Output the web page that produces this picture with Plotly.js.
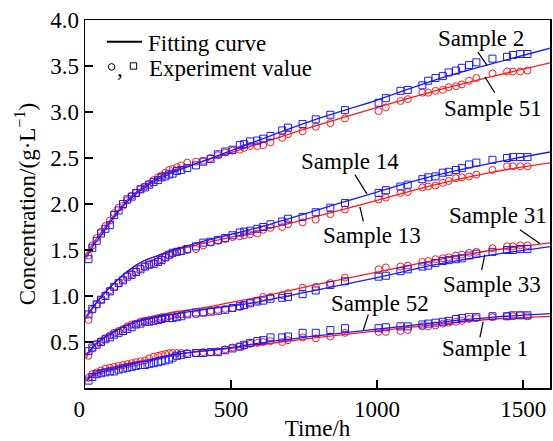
<!DOCTYPE html>
<html>
<head>
<meta charset="utf-8">
<script src="https://cdn.plot.ly/plotly-3.0.1.min.js"></script>
<style>
  html, body { margin: 0; padding: 0; background: #fff; }
  #chart { width: 553px; height: 441px; }
</style>
</head>
<body>
<div id="chart"></div>
<script>
// Sampling times of the experiment (h)
const timeH = [12, 25, 40, 55, 70, 85, 100, 115, 130, 145, 160, 175, 190, 205, 220, 235, 250, 262, 275, 288, 300, 315, 330, 350,
  380, 405, 430, 455, 480, 505, 530, 545, 565, 590, 610, 635, 675, 695, 745, 790, 840, 890,
  1005, 1030, 1080, 1105, 1155, 1175, 1200, 1225, 1245, 1270, 1290, 1315, 1340, 1395, 1445, 1465, 1490, 1515];

// Measured concentrations (g/L)
const sample2 = [1.40, 1.52, 1.60, 1.68, 1.73, 1.77, 1.88, 1.93, 2.00, 2.05, 2.08, 2.12, 2.16, 2.18, 2.21, 2.24, 2.26, 2.29, 2.30, 2.32, 2.33, 2.36, 2.37, 2.39,
  2.42, 2.46, 2.49, 2.54, 2.57, 2.59, 2.64, 2.65, 2.68, 2.69, 2.71, 2.74, 2.80, 2.83, 2.87, 2.92, 2.97, 3.02,
  3.10, 3.15, 3.23, 3.24, 3.29, 3.34, 3.37, 3.39, 3.43, 3.45, 3.48, 3.51, 3.54, 3.58, 3.60, 3.62, 3.63, 3.63];
const sample51 = [1.44, 1.55, 1.63, 1.70, 1.76, 1.82, 1.90, 1.96, 1.98, 2.04, 2.09, 2.12, 2.16, 2.19, 2.22, 2.26, 2.29, 2.31, 2.34, 2.37, 2.38, 2.40, 2.42, 2.45,
  2.46, 2.47, 2.50, 2.53, 2.56, 2.58, 2.59, 2.61, 2.63, 2.63, 2.64, 2.67, 2.72, 2.76, 2.79, 2.84, 2.88, 2.93,
  3.01, 3.05, 3.12, 3.14, 3.21, 3.21, 3.23, 3.24, 3.27, 3.28, 3.30, 3.34, 3.37, 3.42, 3.44, 3.44, 3.44, 3.45];
const sample14 = [0.80, 0.86, 0.91, 0.96, 1.00, 1.05, 1.10, 1.14, 1.17, 1.21, 1.23, 1.26, 1.29, 1.32, 1.34, 1.35, 1.37, 1.39, 1.42, 1.45, 1.47, 1.48, 1.49, 1.51,
  1.54, 1.58, 1.59, 1.61, 1.63, 1.66, 1.69, 1.70, 1.71, 1.73, 1.75, 1.78, 1.81, 1.84, 1.86, 1.91, 1.96, 2.01,
  2.12, 2.15, 2.19, 2.21, 2.27, 2.29, 2.30, 2.34, 2.35, 2.37, 2.39, 2.43, 2.45, 2.48, 2.50, 2.51, 2.51, 2.51];
const sample13 = [0.74, 0.85, 0.91, 0.96, 1.01, 1.06, 1.10, 1.14, 1.18, 1.22, 1.24, 1.27, 1.30, 1.32, 1.34, 1.36, 1.38, 1.40, 1.42, 1.44, 1.46, 1.48, 1.49, 1.50,
  1.51, 1.55, 1.58, 1.60, 1.62, 1.64, 1.65, 1.66, 1.67, 1.68, 1.72, 1.74, 1.75, 1.78, 1.80, 1.83, 1.89, 1.94,
  2.05, 2.07, 2.12, 2.13, 2.18, 2.19, 2.20, 2.23, 2.25, 2.28, 2.29, 2.30, 2.32, 2.37, 2.41, 2.41, 2.41, 2.41];
const sample31 = [0.35, 0.43, 0.48, 0.51, 0.54, 0.57, 0.60, 0.62, 0.64, 0.67, 0.69, 0.70, 0.72, 0.73, 0.74, 0.75, 0.76, 0.77, 0.77, 0.78, 0.79, 0.80, 0.80, 0.81,
  0.80, 0.82, 0.84, 0.85, 0.86, 0.87, 0.88, 0.90, 0.93, 0.95, 0.99, 0.99, 1.01, 1.03, 1.09, 1.10, 1.14, 1.20,
  1.29, 1.31, 1.32, 1.33, 1.37, 1.38, 1.40, 1.41, 1.42, 1.44, 1.45, 1.47, 1.48, 1.52, 1.54, 1.54, 1.55, 1.55];
const sample33 = [0.40, 0.44, 0.47, 0.50, 0.53, 0.55, 0.58, 0.60, 0.62, 0.64, 0.66, 0.69, 0.70, 0.72, 0.72, 0.73, 0.74, 0.75, 0.76, 0.76, 0.76, 0.77, 0.78, 0.80,
  0.82, 0.82, 0.83, 0.84, 0.85, 0.87, 0.89, 0.90, 0.92, 0.94, 0.95, 0.97, 0.98, 0.99, 1.02, 1.06, 1.12, 1.16,
  1.21, 1.22, 1.27, 1.29, 1.32, 1.33, 1.36, 1.38, 1.39, 1.40, 1.41, 1.44, 1.46, 1.48, 1.50, 1.50, 1.51, 1.51];
const sample52 = [0.08, 0.12, 0.15, 0.16, 0.17, 0.18, 0.18, 0.20, 0.21, 0.22, 0.23, 0.24, 0.25, 0.25, 0.26, 0.27, 0.28, 0.29, 0.30, 0.31, 0.33, 0.35, 0.36, 0.37,
  0.38, 0.38, 0.39, 0.39, 0.41, 0.43, 0.45, 0.47, 0.49, 0.51, 0.52, 0.55, 0.55, 0.56, 0.60, 0.60, 0.63, 0.65,
  0.65, 0.66, 0.67, 0.67, 0.69, 0.70, 0.71, 0.72, 0.73, 0.75, 0.76, 0.77, 0.77, 0.78, 0.78, 0.79, 0.79, 0.79];
const sample1 = [0.11, 0.15, 0.17, 0.19, 0.21, 0.22, 0.23, 0.24, 0.25, 0.26, 0.27, 0.28, 0.29, 0.30, 0.32, 0.34, 0.35, 0.36, 0.37, 0.38, 0.38, 0.38, 0.38, 0.38,
  0.38, 0.39, 0.39, 0.40, 0.42, 0.44, 0.45, 0.46, 0.48, 0.49, 0.50, 0.51, 0.50, 0.52, 0.55, 0.54, 0.56, 0.60,
  0.61, 0.61, 0.62, 0.63, 0.67, 0.67, 0.68, 0.70, 0.71, 0.72, 0.73, 0.75, 0.76, 0.77, 0.78, 0.78, 0.79, 0.78];

// Fitting curves evaluated at these times (h)
const fitTime = [5, 25, 50, 100, 150, 200, 250, 300, 400, 500, 600, 800, 1000, 1200, 1400, 1600];
const fit2  = [1.42, 1.53, 1.64, 1.86, 2.04, 2.17, 2.27, 2.34, 2.46, 2.58, 2.70, 2.93, 3.13, 3.35, 3.53, 3.70];
const fit51 = [1.45, 1.56, 1.67, 1.88, 2.06, 2.19, 2.29, 2.36, 2.46, 2.56, 2.66, 2.86, 3.05, 3.23, 3.39, 3.54];
const fit14 = [0.78, 0.87, 0.97, 1.14, 1.28, 1.38, 1.44, 1.50, 1.59, 1.67, 1.75, 1.94, 2.13, 2.31, 2.45, 2.57];
const fit13 = [0.76, 0.86, 0.97, 1.14, 1.28, 1.38, 1.44, 1.49, 1.57, 1.64, 1.71, 1.87, 2.04, 2.21, 2.35, 2.45];
const fit31 = [0.33, 0.44, 0.52, 0.62, 0.70, 0.75, 0.79, 0.82, 0.87, 0.93, 0.99, 1.13, 1.26, 1.39, 1.50, 1.58];
const fit33 = [0.36, 0.44, 0.51, 0.61, 0.69, 0.74, 0.77, 0.80, 0.85, 0.89, 0.94, 1.07, 1.20, 1.34, 1.45, 1.54];
const fit52 = [0.08, 0.13, 0.17, 0.21, 0.25, 0.29, 0.33, 0.36, 0.40, 0.44, 0.49, 0.57, 0.64, 0.71, 0.77, 0.81];
const fit1  = [0.09, 0.15, 0.19, 0.23, 0.27, 0.30, 0.33, 0.36, 0.40, 0.43, 0.47, 0.55, 0.62, 0.69, 0.75, 0.78];

const xTicks = [0, 500, 1000, 1500];
// the "0" label sits a little left of its tick, clear of the vertical axis
const xTickText = ['0\u00a0\u00a0', '500', '1000', '1500'];
const yTicks = [0.5, 1.0, 1.5, 2.0, 2.5, 3.0, 3.5, 4.0];
const yTickText = ['0.5', '1.0', '1.5', '2.0', '2.5', '3.0', '3.5', '4.0'];

const RED = '#ff1a1a';
const BLUE = '#1a1aff';
const FONT = 'Liberation Serif';

function circles(name, y) {
  return { x: timeH, y: y, name: name, type: 'scatter', mode: 'markers', showlegend: false,
    marker: { symbol: 'circle-open', size: 7, color: RED, line: { width: 1, color: RED } } };
}
function squares(name, y) {
  return { x: timeH, y: y, name: name, type: 'scatter', mode: 'markers', showlegend: false,
    marker: { symbol: 'square-open', size: 7, color: BLUE, line: { width: 1, color: BLUE } } };
}
function curve(name, y, color) {
  return { x: fitTime, y: y, name: name, type: 'scatter', mode: 'lines', showlegend: false,
    line: { color: color, width: 1.3, shape: 'spline', smoothing: 1 } };
}

const traces = [
  circles('Sample 51', sample51), circles('Sample 13', sample13), circles('Sample 31', sample31), circles('Sample 1', sample1),
  curve('Sample 51 fit', fit51, RED), curve('Sample 13 fit', fit13, RED), curve('Sample 31 fit', fit31, RED), curve('Sample 1 fit', fit1, RED),
  squares('Sample 2', sample2), squares('Sample 14', sample14), squares('Sample 33', sample33), squares('Sample 52', sample52),
  curve('Sample 2 fit', fit2, BLUE), curve('Sample 14 fit', fit14, BLUE), curve('Sample 33 fit', fit33, BLUE), curve('Sample 52 fit', fit52, BLUE)
];

// Sample labels and their leader lines
const labels = [
  { text: 'Sample 2',  x: 1355, y: 3.80, from: [1345, 3.65], to: [1376, 3.51] },
  { text: 'Sample 51', x: 1397, y: 3.04, from: [1369, 3.38], to: [1403, 3.21] },
  { text: 'Sample 14', x: 906,  y: 2.46, from: [924, 2.32],  to: [965, 2.11] },
  { text: 'Sample 13', x: 982,  y: 1.66, from: [941, 1.97],  to: [953, 1.81] },
  { text: 'Sample 31', x: 1415, y: 1.88, from: [1489, 1.72], to: [1557, 1.57] },
  { text: 'Sample 33', x: 1392, y: 1.12, from: [1369, 1.45], to: [1358, 1.28] },
  { text: 'Sample 52', x: 1009, y: 0.92, from: [970, 0.80],  to: [953, 0.63] },
  { text: 'Sample 1',  x: 1368, y: 0.43, from: [1363, 0.72], to: [1352, 0.55] }
];

const annotations = labels.map(l => ({
  text: l.text, x: l.x, y: l.y, xref: 'x', yref: 'y', showarrow: false,
  xanchor: 'center', yanchor: 'middle', font: { family: FONT, size: 23, color: '#000' }
}));
const shapes = labels.map(l => ({
  type: 'line', xref: 'x', yref: 'y', x0: l.from[0], y0: l.from[1], x1: l.to[0], y1: l.to[1],
  line: { color: '#000', width: 1.2 }
}));

// Legend block (upper left)
shapes.push({ type: 'line', xref: 'x', yref: 'y', x0: 75, x1: 195, y0: 3.763, y1: 3.763, line: { color: '#000', width: 2 } });
shapes.push({ type: 'circle', xref: 'x', yref: 'y', xsizemode: 'pixel', ysizemode: 'pixel', xanchor: 91, yanchor: 3.49,
  x0: -3.3, x1: 3.3, y0: -3.3, y1: 3.3, line: { color: '#000', width: 1 } });
shapes.push({ type: 'rect', xref: 'x', yref: 'y', xsizemode: 'pixel', ysizemode: 'pixel', xanchor: 166, yanchor: 3.50,
  x0: -3.2, x1: 3.2, y0: -3.2, y1: 3.2, line: { color: '#000', width: 1 } });
annotations.push({ text: 'Fitting curve', x: 209, y: 3.74, xref: 'x', yref: 'y', showarrow: false,
  xanchor: 'left', yanchor: 'middle', font: { family: FONT, size: 23, color: '#000' } });
annotations.push({ text: ',', x: 104, y: 3.47, xref: 'x', yref: 'y', showarrow: false,
  xanchor: 'left', yanchor: 'middle', font: { family: FONT, size: 23, color: '#000' } });
annotations.push({ text: 'Experiment value', x: 212, y: 3.47, xref: 'x', yref: 'y', showarrow: false,
  xanchor: 'left', yanchor: 'middle', font: { family: FONT, size: 23, color: '#000' } });

const axisCommon = {
  showline: true, linecolor: '#000', linewidth: 1.5, mirror: true,
  ticks: 'inside', ticklen: 8, tickwidth: 1.5, tickcolor: '#000',
  showgrid: false, zeroline: false,
  tickfont: { family: FONT, size: 23, color: '#000' }
};

const layout = {
  width: 553, height: 441,
  margin: { l: 85, r: 3, t: 20, b: 53 },
  paper_bgcolor: '#fff', plot_bgcolor: '#fff',
  showlegend: false,
  font: { family: FONT, color: '#000' },
  xaxis: Object.assign({}, axisCommon, {
    range: [0, 1592], tickvals: xTicks, ticktext: xTickText,
    title: { text: 'Time/h', font: { family: FONT, size: 23, color: '#000' }, standoff: 4 }
  }),
  yaxis: Object.assign({}, axisCommon, {
    range: [0, 4], tickvals: yTicks, ticktext: yTickText,
    title: { text: 'Concentration/(g·L<sup>−1</sup>)', font: { family: FONT, size: 23, color: '#000' }, standoff: 8 }
  }),
  annotations: annotations,
  shapes: shapes
};

Plotly.newPlot('chart', traces, layout, { staticPlot: true, displayModeBar: false });
</script>
</body>
</html>
